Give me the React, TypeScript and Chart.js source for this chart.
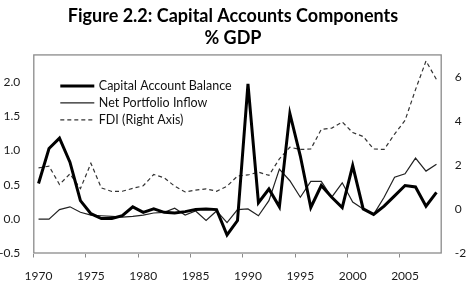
import React, { useEffect, useRef } from "react";
import { Chart, registerables } from "chart.js";

Chart.register(...registerables);

// Years on the category axis
const years = [
  "1970", "1971", "1972", "1973", "1974", "1975", "1976", "1977", "1978", "1979",
  "1980", "1981", "1982", "1983", "1984", "1985", "1986", "1987", "1988", "1989",
  "1990", "1991", "1992", "1993", "1994", "1995", "1996", "1997", "1998", "1999",
  "2000", "2001", "2002", "2003", "2004", "2005", "2006", "2007", "2008",
];

// Years that carry a visible label and tick mark
const labelledYears = ["1970", "1975", "1980", "1985", "1990", "1995", "2000", "2005"];

// Left axis series (% of GDP)
const capitalAccountBalance = [
  0.52, 1.03, 1.18, 0.83, 0.27, 0.08, 0.01, 0.01, 0.05, 0.18,
  0.10, 0.15, 0.10, 0.09, 0.11, 0.14, 0.15, 0.14, -0.23, -0.02,
  1.97, 0.24, 0.44, 0.18, 1.54, 0.92, 0.17, 0.49, 0.32, 0.17,
  0.78, 0.15, 0.07, 0.19, 0.34, 0.49, 0.47, 0.19, 0.39,
];

const netPortfolioInflow = [
  0.0, 0.0, 0.14, 0.18, 0.10, 0.06, 0.05, 0.04, 0.03, 0.04,
  0.06, 0.09, 0.10, 0.16, 0.06, 0.12, -0.02, 0.12, -0.05, 0.14,
  0.15, 0.05, 0.27, 0.73, 0.56, 0.32, 0.55, 0.55, 0.32, 0.53,
  0.25, 0.15, 0.07, 0.32, 0.61, 0.66, 0.89, 0.70, 0.80,
];

// Right axis series (% of GDP)
const fdiRightAxis = [
  1.89, 1.97, 1.14, 1.62, 0.95, 2.10, 0.98, 0.82, 0.83, 0.96,
  1.08, 1.59, 1.44, 1.06, 0.80, 0.88, 0.94, 0.83, 1.06, 1.52,
  1.57, 1.70, 1.55, 2.30, 2.83, 2.73, 2.75, 3.64, 3.70, 3.98,
  3.50, 3.32, 2.75, 2.73, 3.43, 4.05, 5.45, 6.75, 5.91,
];

const leftTicks = [-0.5, 0, 0.5, 1.0, 1.5, 2.0];
const rightTicks = [-2, 0, 2, 4, 6];

const titleLines = ["Figure 2.2: Capital Accounts Components", "% GDP"];

const FONT = "Lato, 'Open Sans', sans-serif";
const FRAME = "#8a8a8a";

// Frame around the plotting area plus the legend placed inside it, top-left
const plotDecorPlugin = {
  id: "plotDecor",
  afterDatasetsDraw(chart: any) {
    const { ctx, chartArea: a } = chart;

    ctx.save();
    ctx.strokeStyle = FRAME;
    ctx.lineWidth = 1.3;
    ctx.setLineDash([]);
    ctx.strokeRect(a.left + 0.5, a.top + 0.5, a.right - a.left - 1, a.bottom - a.top - 1);
    ctx.restore();

    const x0 = a.left + 27;
    const lineLen = 34;
    const y0 = a.top + 31.5;
    const rowGap = 17;
    ctx.save();
    ctx.font = `12.5px ${FONT}`;
    ctx.textBaseline = "middle";
    ctx.fillStyle = "#111";
    chart.data.datasets.forEach((ds: any, i: number) => {
      const y = y0 + i * rowGap;
      ctx.beginPath();
      ctx.strokeStyle = ds.borderColor;
      ctx.lineWidth = ds.borderWidth;
      ctx.setLineDash(ds.borderDash || []);
      ctx.moveTo(x0, y);
      ctx.lineTo(x0 + lineLen, y);
      ctx.stroke();
      ctx.setLineDash([]);
      ctx.fillText(ds.label, x0 + lineLen + 4.5, y);
    });
    ctx.restore();
  },
};

export default function App() {
  const canvasRef = useRef<HTMLCanvasElement | null>(null);

  useEffect(() => {
    const canvas = canvasRef.current;
    if (!canvas) return;
    const chart = new Chart(canvas, {
      type: "line",
      data: {
        labels: years,
        datasets: [
          {
            label: "Capital Account Balance",
            data: capitalAccountBalance,
            borderColor: "#000000",
            borderWidth: 3,
            yAxisID: "yLeft",
          },
          {
            label: "Net Portfolio Inflow",
            data: netPortfolioInflow,
            borderColor: "#222222",
            borderWidth: 1.2,
            yAxisID: "yLeft",
          },
          {
            label: "FDI (Right Axis)",
            data: fdiRightAxis,
            borderColor: "#333333",
            borderWidth: 1.2,
            borderDash: [4, 3],
            yAxisID: "yRight",
          },
        ],
      },
      options: {
        responsive: false,
        animation: false,
        devicePixelRatio: 1,
        elements: {
          point: { radius: 0, hoverRadius: 0 },
          line: { tension: 0, fill: false, borderCapStyle: "butt", borderJoinStyle: "miter" },
        },
        layout: { padding: 0 },
        plugins: {
          legend: { display: false },
          tooltip: { enabled: false },
          title: {
            display: true,
            text: titleLines,
            color: "#000",
            font: { family: FONT, size: 18, weight: "bold", lineHeight: 1.22 },
            padding: { top: 5, bottom: 5.5 },
          },
        },
        scales: {
          x: {
            type: "category",
            offset: true,
            grid: {
              offset: true,
              drawOnChartArea: false,
              drawTicks: true,
              tickLength: 4,
              color: (ctx: any) =>
                typeof ctx.index === "number" && labelledYears.includes(years[ctx.index])
                  ? FRAME
                  : "rgba(0,0,0,0)",
            },
            border: { display: false },
            ticks: {
              autoSkip: false,
              maxRotation: 0,
              minRotation: 0,
              padding: 11,
              color: "#1a1a1a",
              font: { family: FONT, size: 12 },
              callback: (_v: any, i: number) => (labelledYears.includes(years[i]) ? years[i] : ""),
            },
            afterFit: (scale: any) => {
              scale.height = 37.5;
            },
          },
          yLeft: {
            type: "linear",
            position: "left",
            min: -0.5,
            max: 2.4,
            grid: { display: false, drawTicks: false },
            border: { display: false },
            ticks: {
              padding: 13,
              color: "#1a1a1a",
              font: { family: FONT, size: 12 },
              callback: (v: any) => Number(v).toFixed(1),
            },
            afterBuildTicks: (scale: any) => {
              scale.ticks = leftTicks.map((value) => ({ value }));
            },
            afterFit: (scale: any) => {
              scale.width = 33.3;
            },
          },
          yRight: {
            type: "linear",
            position: "right",
            min: -2,
            max: 7.05,
            grid: { display: false, drawTicks: false },
            border: { display: false },
            ticks: {
              padding: 13,
              color: "#1a1a1a",
              font: { family: FONT, size: 12 },
              callback: (v: any) => String(v),
            },
            afterBuildTicks: (scale: any) => {
              scale.ticks = rightTicks.map((value) => ({ value }));
            },
            afterFit: (scale: any) => {
              scale.width = 24.3;
            },
          },
        },
      },
      plugins: [plotDecorPlugin],
    } as any);
    return () => chart.destroy();
  }, []);

  return (
    <div style={{ position: "absolute", left: 0, top: 0, width: 466, height: 291, background: "#fff" }}>
      <canvas ref={canvasRef} width={466} height={291} style={{ display: "block" }} />
    </div>
  );
}
